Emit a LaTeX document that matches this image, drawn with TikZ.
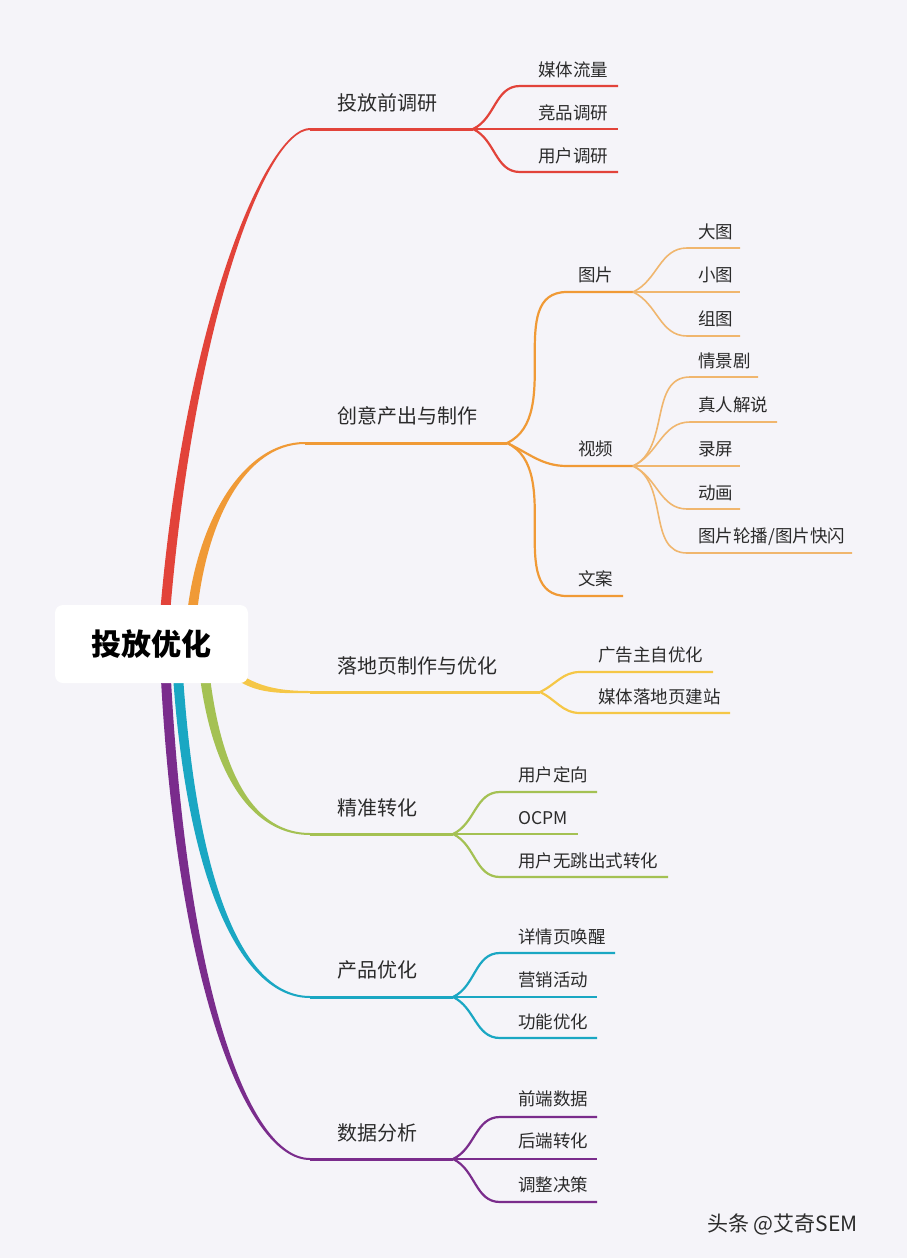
\documentclass[tikz,border=0pt]{standalone}
\usepackage{fontspec}
\usepackage{xcolor}
\newfontfamily\cjk{Noto Sans CJK SC}

\definecolor{bg}{HTML}{F5F4F9}
\definecolor{txt}{HTML}{2B2B2B}
\definecolor{cred}{HTML}{E2433A}
\definecolor{corange}{HTML}{F09A36}
\definecolor{corangel}{HTML}{F0B66E}
\definecolor{cyellow}{HTML}{F5C747}
\definecolor{cgreen}{HTML}{A4C153}
\definecolor{ccyan}{HTML}{1AA7C3}
\definecolor{cpurple}{HTML}{7A2C8C}

\tikzset{
  mainlbl/.style={anchor=west, inner sep=0pt, text=txt, font=\cjk\fontsize{20}{24}\selectfont},
  leaflbl/.style={anchor=west, inner sep=0pt, text=txt, font=\cjk\fontsize{17.5}{21}\selectfont},
  rootbox/.style={fill=white, rounded corners=8pt, minimum width=193pt, minimum height=78pt, inner sep=0pt, font=\cjk\bfseries\fontsize{30}{34}\selectfont, text=black},
  trunk/.style={line width=3pt},
  twig/.style={line width=2.2pt},
  leaf/.style={line width=1.6pt},
  upbend/.style={out=25, in=180},
  downbend/.style={out=-25, in=180},
}

\begin{document}
\begin{tikzpicture}[x=1pt,y=-1pt]

% Background
\fill[bg] (0,0) rectangle (907,1258);
\useasboundingbox (0,0) rectangle (907,1258);

% First branch: red
\coordinate (r0) at (163,640);
\coordinate (r1) at (310,129);
\coordinate (r2) at (473,129);
\fill[cred] ([xshift=-5pt]r0) .. controls (180,330) and (265,128) .. ([yshift=1pt]r1) -- ([yshift=-1pt]r1) .. controls (265,130) and (190,330) .. ([xshift=5pt]r0) -- cycle;
\draw[trunk,cred] (r1) -- (r2);
\node[mainlbl] (rlbl) at (337,103) {投放前调研};
\coordinate (ra) at (520,86);  \coordinate (rae) at (618,86);
\coordinate (rb) at (520,129); \coordinate (rbe) at (618,129);
\coordinate (rc) at (520,172); \coordinate (rce) at (618,172);
\draw[twig,cred] (r2) to[upbend] (ra) -- (rae);
\draw[twig,cred] (r2) -- (rb) -- (rbe);
\draw[twig,cred] (r2) to[downbend] (rc) -- (rce);
\node[leaflbl] (ralbl) at (538,70) {媒体流量};
\node[leaflbl] (rblbl) at (538,113) {竞品调研};
\node[leaflbl] (rclbl) at (538,156) {用户调研};

% Second branch: orange
\coordinate (o0) at (190,640);
\coordinate (o1) at (305,443);
\coordinate (o2) at (507,443);
\fill[corange] ([xshift=-5pt]o0) .. controls (190,530) and (240,442) .. ([yshift=1pt]o1) -- ([yshift=-1pt]o1) .. controls (242,444) and (200,530) .. ([xshift=5pt]o0) -- cycle;
\draw[trunk,corange] (o1) -- (o2);
\node[mainlbl] (olbl) at (337,416) {创意产出与制作};
% pictures, video, copy
\coordinate (oa) at (567,292); \coordinate (oae) at (633,292);
\coordinate (ob) at (567,466); \coordinate (obe) at (633,466);
\coordinate (oc) at (567,596); \coordinate (oce) at (623,596);
\draw[twig,corange] (o2) to[upbend] (oa) -- (oae);
\draw[twig,corange] (o2) to[downbend] (ob) -- (obe);
\draw[twig,corange] (o2) to[downbend] (oc) -- (oce);
\node[leaflbl] (oalbl) at (578,275) {图片};
\node[leaflbl] (oblbl) at (578,449) {视频};
\node[leaflbl] (oclbl) at (578,579) {文案};
% leaves of pictures
\coordinate (oa1) at (687,248); \coordinate (oa1e) at (740,248);
\coordinate (oa2) at (687,292); \coordinate (oa2e) at (740,292);
\coordinate (oa3) at (687,336); \coordinate (oa3e) at (740,336);
\draw[leaf,corangel] (oae) to[upbend] (oa1) -- (oa1e);
\draw[leaf,corangel] (oae) -- (oa2) -- (oa2e);
\draw[leaf,corangel] (oae) to[downbend] (oa3) -- (oa3e);
\node[leaflbl] (oa1lbl) at (698,232) {大图};
\node[leaflbl] (oa2lbl) at (698,275) {小图};
\node[leaflbl] (oa3lbl) at (698,319) {组图};
% leaves of video
\coordinate (ob1) at (690,377); \coordinate (ob1e) at (758,377);
\coordinate (ob2) at (690,422); \coordinate (ob2e) at (777,422);
\coordinate (ob3) at (687,466); \coordinate (ob3e) at (740,466);
\coordinate (ob4) at (687,509); \coordinate (ob4e) at (740,509);
\coordinate (ob5) at (687,553); \coordinate (ob5e) at (852,553);
\draw[leaf,corangel] (obe) to[upbend] (ob1) -- (ob1e);
\draw[leaf,corangel] (obe) to[upbend] (ob2) -- (ob2e);
\draw[leaf,corangel] (obe) -- (ob3) -- (ob3e);
\draw[leaf,corangel] (obe) to[downbend] (ob4) -- (ob4e);
\draw[leaf,corangel] (obe) to[downbend] (ob5) -- (ob5e);
\node[leaflbl] (ob1lbl) at (698,361) {情景剧};
\node[leaflbl] (ob2lbl) at (698,405) {真人解说};
\node[leaflbl] (ob3lbl) at (698,449) {录屏};
\node[leaflbl] (ob4lbl) at (698,493) {动画};
\node[leaflbl] (ob5lbl) at (698,537) {图片轮播/图片快闪};

% Third branch: yellow
\coordinate (y0) at (222,664);
\coordinate (y1) at (310,692);
\coordinate (y2) at (540,692);
\fill[cyellow] ([yshift=3pt]y0) .. controls (250,684) and (270,691) .. ([yshift=1pt]y1) -- ([yshift=-1pt]y1) .. controls (268,694) and (246,692) .. ([yshift=-3pt]y0) -- cycle;
\draw[trunk,cyellow] (y1) -- (y2);
\node[mainlbl] (ylbl) at (337,666) {落地页制作与优化};
\coordinate (ya) at (580,672); \coordinate (yae) at (713,672);
\coordinate (yb) at (580,713); \coordinate (ybe) at (730,713);
\draw[twig,cyellow] (y2) to[upbend] (ya) -- (yae);
\draw[twig,cyellow] (y2) to[downbend] (yb) -- (ybe);
\node[leaflbl] (yalbl) at (598,655) {广告主自优化};
\node[leaflbl] (yblbl) at (598,697) {媒体落地页建站};

% Fourth branch: green
\coordinate (g0) at (203,660);
\coordinate (g1) at (310,834);
\coordinate (g2) at (453,834);
\fill[cgreen] ([xshift=-5pt]g0) .. controls (210,780) and (255,835) .. ([yshift=-1pt]g1) -- ([yshift=1pt]g1) .. controls (257,833) and (220,780) .. ([xshift=5pt]g0) -- cycle;
\draw[trunk,cgreen] (g1) -- (g2);
\node[mainlbl] (glbl) at (337,808) {精准转化};
\coordinate (ga) at (500,792); \coordinate (gae) at (597,792);
\coordinate (gb) at (500,834); \coordinate (gbe) at (578,834);
\coordinate (gc) at (500,877); \coordinate (gce) at (668,877);
\draw[twig,cgreen] (g2) to[upbend] (ga) -- (gae);
\draw[twig,cgreen] (g2) -- (gb) -- (gbe);
\draw[twig,cgreen] (g2) to[downbend] (gc) -- (gce);
\node[leaflbl] (galbl) at (518,775) {用户定向};
\node[leaflbl] (gblbl) at (518,818) {OCPM};
\node[leaflbl] (gclbl) at (518,861) {用户无跳出式转化};

% Fifth branch: cyan
\coordinate (c0) at (177,660);
\coordinate (c1) at (310,997);
\coordinate (c2) at (453,997);
\fill[ccyan] ([xshift=-5pt]c0) .. controls (185,880) and (240,998) .. ([yshift=-1pt]c1) -- ([yshift=1pt]c1) .. controls (242,996) and (195,880) .. ([xshift=5pt]c0) -- cycle;
\draw[trunk,ccyan] (c1) -- (c2);
\node[mainlbl] (clbl) at (337,970) {产品优化};
\coordinate (ca) at (500,953);  \coordinate (cae) at (615,953);
\coordinate (cb) at (500,997);  \coordinate (cbe) at (597,997);
\coordinate (cc) at (500,1038); \coordinate (cce) at (597,1038);
\draw[twig,ccyan] (c2) to[upbend] (ca) -- (cae);
\draw[twig,ccyan] (c2) -- (cb) -- (cbe);
\draw[twig,ccyan] (c2) to[downbend] (cc) -- (cce);
\node[leaflbl] (calbl) at (518,937) {详情页唤醒};
\node[leaflbl] (cblbl) at (518,980) {营销活动};
\node[leaflbl] (cclbl) at (518,1022) {功能优化};

% Sixth branch: purple
\coordinate (p0) at (165,660);
\coordinate (p1) at (310,1159);
\coordinate (p2) at (453,1159);
\fill[cpurple] ([xshift=-5pt]p0) .. controls (175,980) and (245,1160) .. ([yshift=-1pt]p1) -- ([yshift=1pt]p1) .. controls (247,1158) and (185,980) .. ([xshift=5pt]p0) -- cycle;
\draw[trunk,cpurple] (p1) -- (p2);
\node[mainlbl] (plbl) at (337,1133) {数据分析};
\coordinate (pa) at (500,1117); \coordinate (pae) at (597,1117);
\coordinate (pb) at (500,1159); \coordinate (pbe) at (597,1159);
\coordinate (pc) at (500,1202); \coordinate (pce) at (597,1202);
\draw[twig,cpurple] (p2) to[upbend] (pa) -- (pae);
\draw[twig,cpurple] (p2) -- (pb) -- (pbe);
\draw[twig,cpurple] (p2) to[downbend] (pc) -- (pce);
\node[leaflbl] (palbl) at (518,1099) {前端数据};
\node[leaflbl] (pblbl) at (518,1141) {后端转化};
\node[leaflbl] (pclbl) at (518,1185) {调整决策};

% Root
\node[rootbox] (root) at (151.5,644) {投放优化};

% Watermark
\node[anchor=west, inner sep=0pt, text=txt, font=\cjk\fontsize{21}{24}\selectfont] (wm) at (707,1224) {头条 @艾奇SEM};

\end{tikzpicture}
\end{document}
